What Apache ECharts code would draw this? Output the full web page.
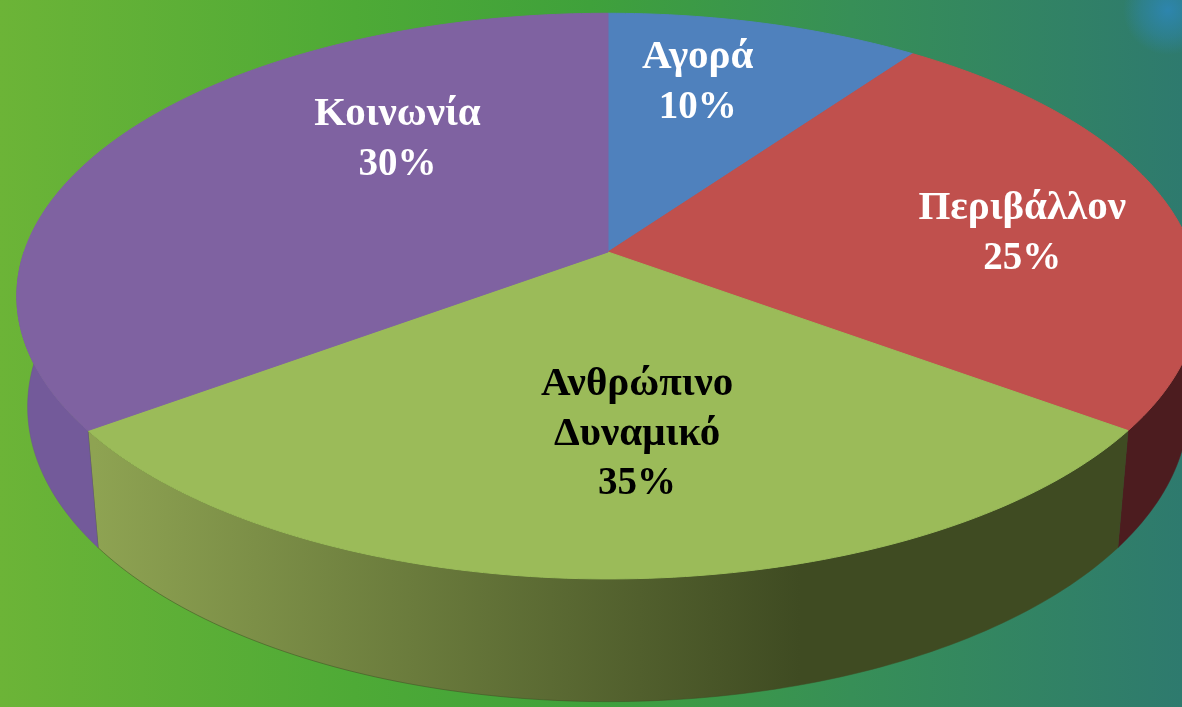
<!DOCTYPE html>
<html>
<head>
<meta charset="utf-8">
<script src="https://cdn.jsdelivr.net/npm/echarts@6/dist/echarts.min.js"></script>
<style>
  html, body { margin: 0; padding: 0; width: 1182px; height: 707px; overflow: hidden; }
  #chart { width: 1182px; height: 707px; }
</style>
</head>
<body>
<div id="chart"></div>
<script>
// ---- data ----
const categories = ['Αγορά', 'Περιβάλλον', 'Ανθρώπινο\nΔυναμικό', 'Κοινωνία'];
const shares = [10, 25, 30, 35];            // slice sizes as drawn
const percentLabels = ['10%', '25%', '35%', '30%']; // label texts as printed
// ---- style ----
const topColors = ['#4f81bd', '#c0504d', '#9bbb59', '#7f62a1'];
const wallColors = [
  ['#3d6494', '#3a5e8c'],
  ['#581f22', '#4c1c1f'],
  ['#8ea352', '#3f4b22'],
  ['#735a9a', '#6a5090']
];
const labelColors = ['#ffffff', '#ffffff', '#000000', '#ffffff'];
// label anchor: fraction along slice angle, radius fraction
const labelAnchor = [[0.39, 0.70], [0.54, 0.72], [0.46, 0.60], [0.67, 0.58]];

// ---- projection (perspective view of a tilted disc) ----
const V = { cx: 608, cy: 252, f: 3300, L: 5.65, H: 2.67, D: 4.98, h: 0.217 };
function proj(phiDeg, r, Y) {
  const p = phiDeg * Math.PI / 180;
  const X = r * Math.sin(p), Z = -r * Math.cos(p);
  const ry = Y - V.H, rz = Z - V.D;
  const depth = (-ry * V.H - rz * V.D) / V.L;
  const up = (ry * V.D - rz * V.H) / V.L;
  return [V.cx + V.f * X / depth, V.cy - V.f * up / depth];
}

const total = shares.reduce((a, b) => a + b, 0);
const starts = [];
let acc = 0;
shares.forEach(v => { starts.push(acc / total * 360); acc += v; });

function arc(a0, a1, r, Y) {
  const pts = [];
  const n = Math.max(2, Math.ceil((a1 - a0) / 1));
  for (let i = 0; i <= n; i++) pts.push(proj(a0 + (a1 - a0) * i / n, r, Y));
  return pts;
}

const FONT = '"Liberation Serif", "DejaVu Serif", serif';

const chart = echarts.init(document.getElementById('chart'), null, { renderer: 'canvas' });

const option = {
  animation: false,
  graphic: [
    {
      type: 'rect', silent: true, z: -10,
      shape: { x: 0, y: 0, width: 1182, height: 707 },
      style: {
        fill: new echarts.graphic.LinearGradient(0, 0, 1, 0, [
          { offset: 0, color: '#6cb437' },
          { offset: 0.3, color: '#4eaa36' },
          { offset: 0.5, color: '#3fa13b' },
          { offset: 0.72, color: '#378f57' },
          { offset: 1, color: '#2e7a6e' }
        ])
      }
    },
    {
      type: 'circle', silent: true, z: -9,
      shape: { cx: 1168, cy: 10, r: 45 },
      style: {
        fill: new echarts.graphic.RadialGradient(0.5, 0.5, 0.5, [
          { offset: 0, color: 'rgba(45,135,185,0.85)' },
          { offset: 0.6, color: 'rgba(45,135,185,0.4)' },
          { offset: 1, color: 'rgba(45,135,185,0)' }
        ])
      }
    }
  ],
  series: [{
    type: 'custom',
    coordinateSystem: 'none',
    data: shares.map((v, i) => [v, i]),
    renderItem: function (params, api) {
      const i = params.dataIndex;
      const a0 = starts[i];
      const a1 = a0 + shares[i] / total * 360;
      const children = [];
      // outer wall (visible front part)
      const w0 = Math.max(a0, 90), w1 = Math.min(a1, 270);
      if (w1 > w0) {
        const topArc = arc(w0, w1, 1, 0);
        const botArc = arc(w0, w1, 1, -V.h).reverse();
        children.push({
          type: 'polygon', z2: 1,
          shape: { points: topArc.concat(botArc) },
          style: {
            fill: new echarts.graphic.LinearGradient(95, 0, 800, 0, [
              { offset: 0, color: wallColors[i][0] },
              { offset: 1, color: wallColors[i][1] }
            ], true),
            stroke: wallColors[i][1], lineWidth: 0.5
          }
        });
      }
      // top face
      const pts = [proj(0, 0, 0)].concat(arc(a0, a1, 1, 0));
      children.push({
        type: 'polygon', z2: 10,
        shape: { points: pts },
        style: { fill: topColors[i], stroke: topColors[i], lineWidth: 1 }
      });
      // label
      const la = a0 + (a1 - a0) * labelAnchor[i][0];
      const lp = proj(la, labelAnchor[i][1], 0);
      const txt = categories[i].split('\n').map(s => '{n|' + s + '}').join('\n') +
        '\n{p|' + percentLabels[i] + '}';
      children.push({
        type: 'text', z2: 20, x: lp[0], y: lp[1],
        style: {
          text: txt,
          fill: labelColors[i],
          font: 'bold 40px ' + FONT,
          align: 'center', verticalAlign: 'middle',
          rich: {
            n: { fill: labelColors[i], fontFamily: FONT, fontWeight: 'bold', fontSize: 41, lineHeight: 50, align: 'center' },
            p: { fill: labelColors[i], fontFamily: FONT, fontWeight: 'bold', fontSize: 39, lineHeight: 50, align: 'center' }
          }
        }
      });
      return { type: 'group', children: children };
    }
  }]
};
chart.setOption(option);
</script>
</body>
</html>
